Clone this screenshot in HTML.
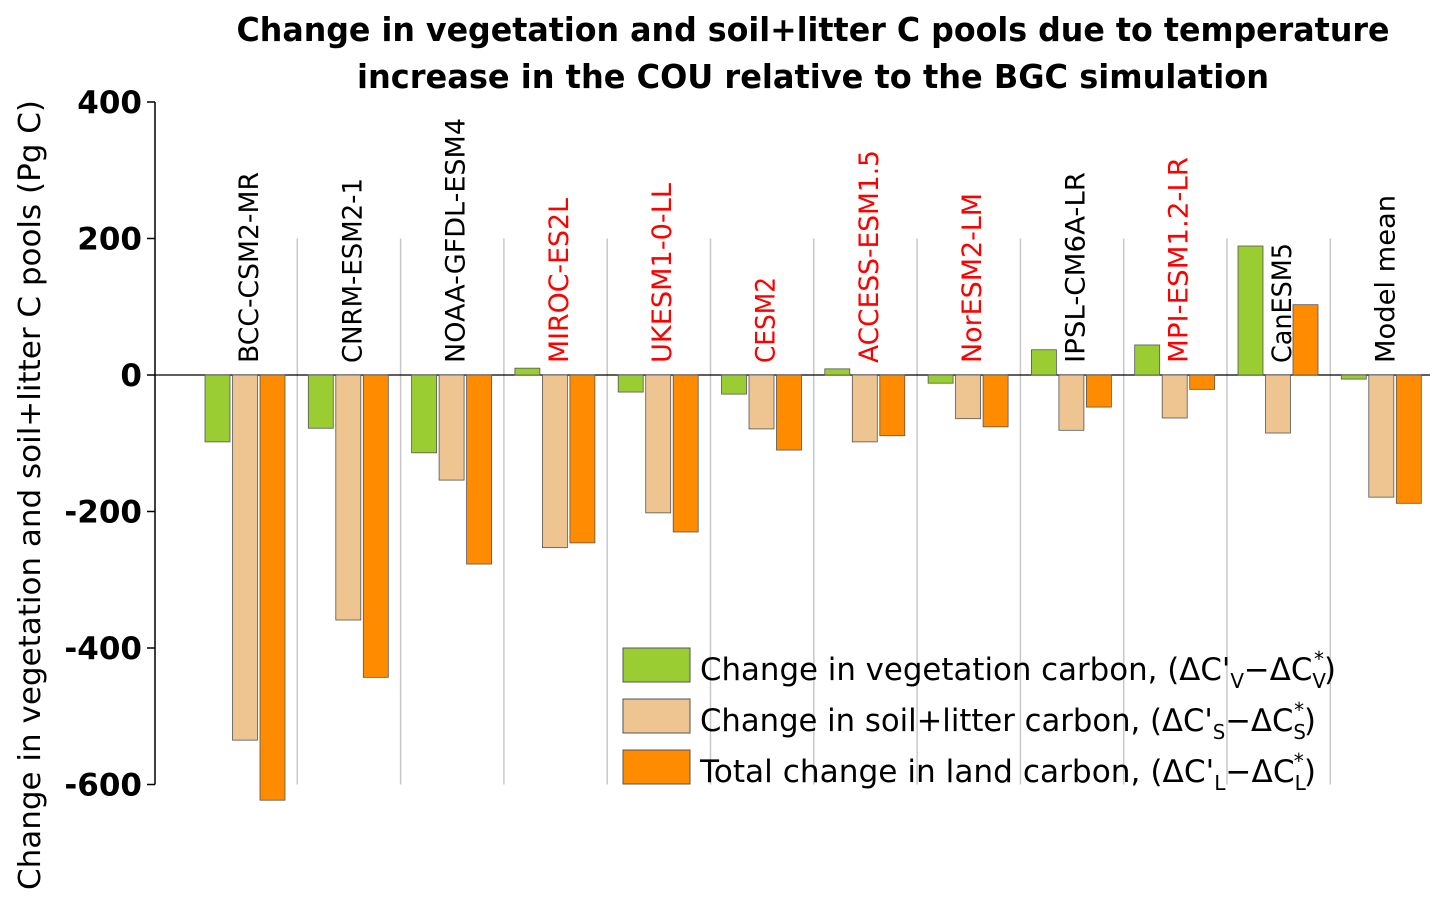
<!DOCTYPE html>
<html><head><meta charset="utf-8"><style>
html,body{margin:0;padding:0;background:#fff;}
svg{display:block;font-family:"DejaVu Sans","Liberation Sans",sans-serif;}
</style></head><body>
<svg id="chart" width="1442" height="903" viewBox="0 0 1442 903" xmlns="http://www.w3.org/2000/svg">
<text x="813" y="41" text-anchor="middle" font-size="33" font-weight="bold" textLength="1153" lengthAdjust="spacingAndGlyphs">Change in vegetation and soil+litter C pools due to temperature</text>
<text x="813" y="88" text-anchor="middle" font-size="33" font-weight="bold" textLength="912" lengthAdjust="spacingAndGlyphs">increase in the COU relative to the BGC simulation</text>
<text transform="translate(40,495) rotate(-90)" text-anchor="middle" font-size="30" textLength="790" lengthAdjust="spacingAndGlyphs">Change in vegetation and soil+litter C pools (Pg C)</text>
<g id="axes"></g>
<g id="bars"></g>
<g id="labels"></g>
<g>
<rect x="623" y="648" width="67" height="34" fill="#9acd32" stroke="#555" stroke-width="1"/>
<text x="700" y="680" font-size="31" textLength="636" lengthAdjust="spacingAndGlyphs">Change in vegetation carbon, (ΔC'<tspan font-size="20" dy="8">V</tspan><tspan dy="-8">−ΔC</tspan><tspan font-size="20" dy="8">V</tspan><tspan font-size="20" dy="-22" dx="-12">*</tspan><tspan dy="14">)</tspan></text>
<rect x="623" y="699" width="67" height="34" fill="#eec591" stroke="#555" stroke-width="1"/>
<text x="700" y="731" font-size="31" textLength="616" lengthAdjust="spacingAndGlyphs">Change in soil+litter carbon, (ΔC'<tspan font-size="20" dy="8">S</tspan><tspan dy="-8">−ΔC</tspan><tspan font-size="20" dy="8">S</tspan><tspan font-size="20" dy="-22" dx="-12">*</tspan><tspan dy="14">)</tspan></text>
<rect x="623" y="750" width="67" height="34" fill="#ff8c00" stroke="#555" stroke-width="1"/>
<text x="700" y="782" font-size="31" textLength="616" lengthAdjust="spacingAndGlyphs">Total change in land carbon, (ΔC'<tspan font-size="20" dy="8">L</tspan><tspan dy="-8">−ΔC</tspan><tspan font-size="20" dy="8">L</tspan><tspan font-size="20" dy="-22" dx="-12">*</tspan><tspan dy="14">)</tspan></text>
</g>
</svg>
<script>
const models=["BCC-CSM2-MR","CNRM-ESM2-1","NOAA-GFDL-ESM4","MIROC-ES2L","UKESM1-0-LL","CESM2","ACCESS-ESM1.5","NorESM2-LM","IPSL-CM6A-LR","MPI-ESM1.2-LR","CanESM5","Model mean"];
const labelRed=[false,false,false,true,true,true,true,true,false,true,false,false];
const labelLen=[191,185,245,165,180,86,213,170,191,206,120,168];
const vegetation=[-98,-78,-114,10,-25,-28,9,-12,37,44,189,-6];
const soil=[-535,-359,-154,-253,-202,-79,-98,-64,-81,-63,-85,-179];
const total=[-623,-443,-277,-246,-230,-110,-89,-76,-47,-21,103,-188];
const yTicks=[400,200,0,-200,-400,-600];
const NS="http://www.w3.org/2000/svg";
function y(v){return 375-v*0.6825;}
const x0=194,gw=103.3;
function mk(t,a,p){const e=document.createElementNS(NS,t);for(const k in a)e.setAttribute(k,a[k]);p.appendChild(e);return e;}
const ax=document.getElementById('axes'),bars=document.getElementById('bars'),lab=document.getElementById('labels');
for(let i=1;i<models.length;i++){
 const l=mk('line',{x1:x0+i*gw,x2:x0+i*gw,y1:y(200),y2:y(-600),stroke:'#c8c8c8','stroke-width':1.5},ax);
 
 
}
const yl=mk('line',{x1:155,x2:155,y1:y(400),y2:y(-600),stroke:'#000','stroke-width':1.5},ax);


const zl=mk('line',{x1:155,x2:1430,y1:y(0),y2:y(0),stroke:'#000','stroke-width':1.2},ax);


yTicks.forEach(v=>{
 const t=mk('line',{x1:147,x2:155,y1:y(v),y2:y(v),stroke:'#000','stroke-width':1.5},ax);
 
 
 const tx=mk('text',{x:142,y:y(v)+11,'text-anchor':'end','font-size':31,'font-weight':'bold'},ax);
 
 
 tx.textContent=v;
});
const series=[[vegetation,'#9acd32','bar-vegetation'],[soil,'#eec591','bar-soil'],[total,'#ff8c00','bar-total']];
models.forEach((m,i)=>{
 const gx=x0+i*gw;
 series.forEach((s,j)=>{
  const v=s[0][i];const bx=gx+11+j*27.5;
  const r=mk('rect',{x:bx,y:Math.min(y(v),y(0)),width:25,height:Math.abs(y(v)-y(0)),fill:s[1],stroke:'#555','stroke-width':0.8},bars);
  
  
 });
 const t=mk('text',{transform:`translate(${gx+64},363) rotate(-90)`,'font-size':27,textLength:labelLen[i],lengthAdjust:'spacingAndGlyphs',fill:labelRed[i]?'#ff0000':'#000'},lab);
 
 
 t.textContent=m;
});
</script>
</body></html>
